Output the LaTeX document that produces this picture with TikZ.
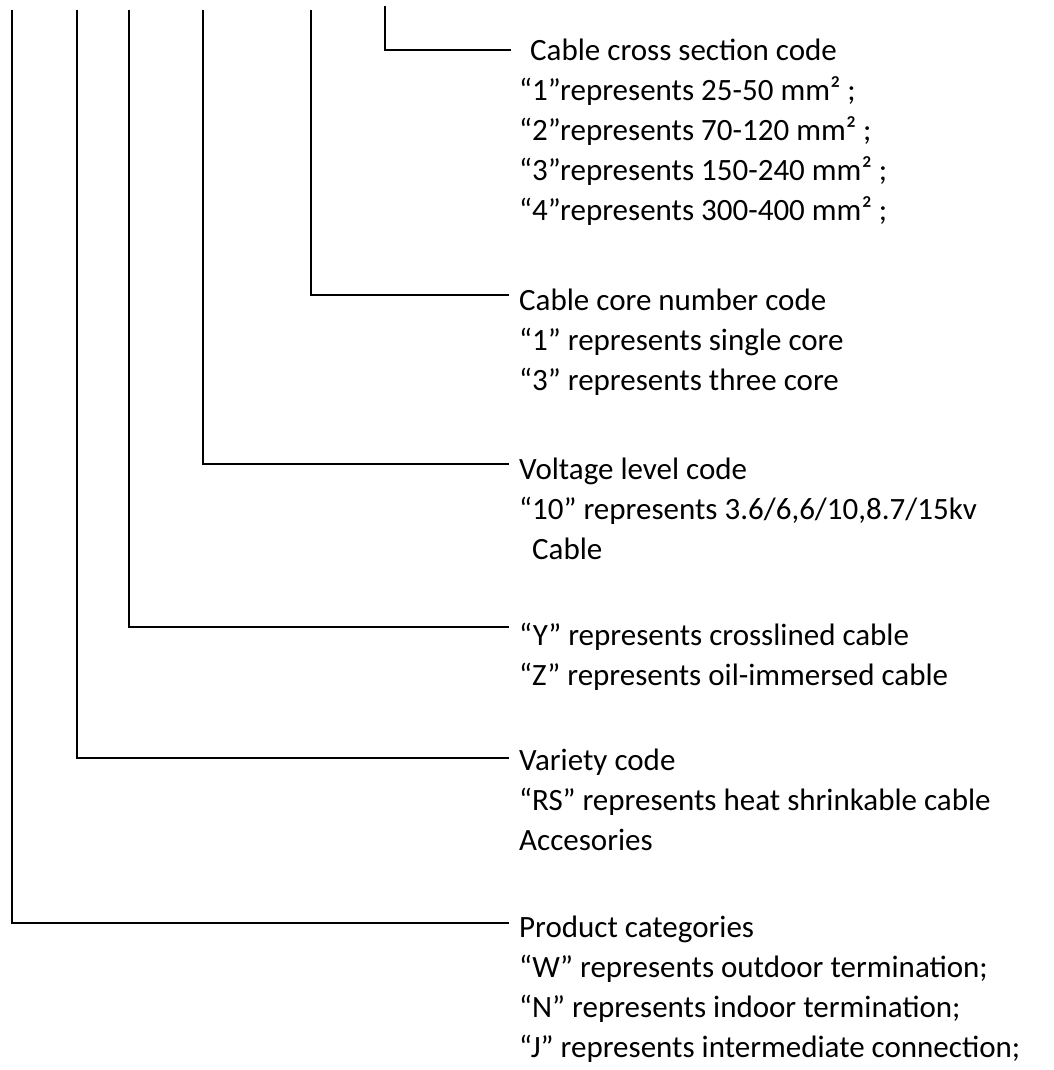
\documentclass[tikz,border=0pt]{standalone}
\usepackage{fontspec}
\setmainfont{Carlito}

\begin{document}
\begin{tikzpicture}[x=1pt, y=-1pt,
  code/.style={line width=1.5pt},
  legend/.style={align=left, anchor=base west, inner sep=0pt,
                 font=\fontsize{31}{40}\selectfont}]

\useasboundingbox (0,0) rectangle (1053,1070);

% base west of a legend is the baseline of its last line
\node[legend] (section) at (519,220)
      {\hspace*{11pt}Cable cross section code\\
       “1”represents 25-50 mm² ;\\
       “2”represents 70-120 mm² ;\\
       “3”represents 150-240 mm² ;\\
       “4”represents 300-400 mm² ;};
\node[legend] (core) at (519,390)
      {Cable core number code\\
       “1” represents single core\\
       “3” represents three core};
\node[legend] (voltage) at (519,559)
      {Voltage level code\\
       “10” represents 3.6/6,6/10,8.7/15kv\\
       \hspace*{13pt}Cable};
\node[legend] (insulation) at (519,685)
      {“Y” represents crosslined cable\\
       “Z” represents oil-immersed cable};
\node[legend] (variety) at (519,850)
      {Variety code\\
       “RS” represents heat shrinkable cable\\
       Accesories};
\node[legend] (product) at (519,1057)
      {Product categories\\
       “W” represents outdoor termination;\\
       “N” represents indoor termination;\\
       “J” represents intermediate connection;};

\coordinate (sectiontop)    at (385,6);
\coordinate (coretop)       at (311,10);
\coordinate (voltagetop)    at (203,10);
\coordinate (insulationtop) at (129,10);
\coordinate (varietytop)    at (77,10);
\coordinate (producttop)    at (12,10);

\draw[code] (sectiontop)    |- ([shift={(-8pt,170pt)}]section.base west);
\draw[code] (coretop)       |- ([shift={(-10pt,95pt)}]core.base west);
\draw[code] (voltagetop)    |- ([shift={(-10pt,95pt)}]voltage.base west);
\draw[code] (insulationtop) |- ([shift={(-10pt,58pt)}]insulation.base west);
\draw[code] (varietytop)    |- ([shift={(-10pt,92pt)}]variety.base west);
\draw[code] (producttop)    |- ([shift={(-10pt,134pt)}]product.base west);

\end{tikzpicture}
\end{document}
